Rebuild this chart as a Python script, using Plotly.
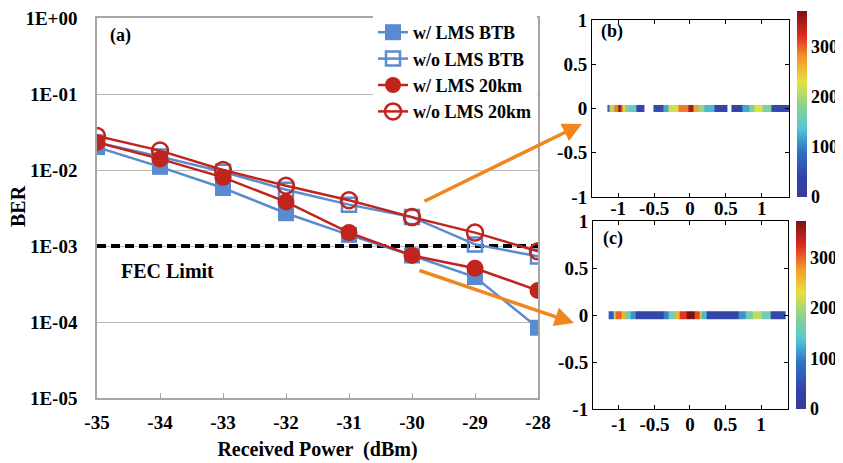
import plotly.graph_objects as go

# ---------------- data ----------------
power_dbm = [-35, -34, -33, -32, -31, -30, -29, -28]
power_ticktext = ["-35", "-34", "-33", "-32", "-31", "-30", "-29", "-28"]
ber_w_lms_btb = [2.0e-2, 1.1e-2, 5.8e-3, 2.7e-3, 1.4e-3, 7.5e-4, 3.9e-4, 8.4e-5]
ber_wo_lms_btb = [2.3e-2, 1.5e-2, 9.5e-3, 5.5e-3, 3.5e-3, 2.4e-3, 1.05e-3, 7.3e-4]
ber_w_lms_20km = [2.3e-2, 1.4e-2, 8.0e-3, 3.8e-3, 1.5e-3, 7.5e-4, 5.1e-4, 2.6e-4]
ber_wo_lms_20km = [2.8e-2, 1.8e-2, 1.0e-2, 6.2e-3, 4.0e-3, 2.4e-3, 1.5e-3, 8.5e-4]
series_names = ["w/ LMS BTB", "w/o LMS BTB", "w/ LMS 20km", "w/o LMS 20km"]
fec_x = [-35, -28]
fec_y = [1e-3, 1e-3]

ber_tickvals = [1e0, 1e-1, 1e-2, 1e-3, 1e-4, 1e-5]
ber_ticktext = ["1E+00", "1E-01", "1E-02", "1E-03", "1E-04", "1E-05"]

# heat-map stripes (bin edges along x, intensity per bin; None = empty)
b_edges = [-1.15, -1.12, -1.09, -1.055, -1.0, -0.97, -0.935, -0.90, -0.84, -0.75, -0.64,
           -0.515, -0.375, -0.30, -0.16, -0.02, 0.05, 0.12, 0.2, 0.34, 0.52,
           0.575, 0.735, 0.83, 0.9, 1.01, 1.14, 1.38]
b_values = [70, 250, 200, 290, 370, 310, 240, 170, 150, 40, None,
            50, 120, 220, 290, 350, 270, 190, 130, 40, None,
            40, 120, 170, 230, 170, 45]
c_edges = [-1.145, -1.075, -1.04, -0.96, -0.91, -0.84, -0.76, -0.375, -0.30, -0.21, -0.14,
           -0.05, 0.07, 0.14, 0.17, 0.24, 0.69, 0.78, 0.88, 1.01, 1.135, 1.35]
c_values = [70, 200, 300, 260, 160, 110, 40, 100, 160, 260, 320,
            370, 310, 250, 130, 40, 110, 160, 210, 160, 45]
stripe_y = [-0.04, 0.04]
z_max = 372
cbar_ticks = [0, 100, 200, 300]
cbar_ticktext = ["0", "100", "200", "300"]
sub_ticks = [-1, -0.5, 0, 0.5, 1]
sub_ticktext = ["-1", "-0.5", "0", "0.5", "1"]

# ---------------- styling ----------------
W, H = 843, 463
OFF = 8  # page body margin offset of the plot div
BLUE = "#5A8ACF"
RED = "#C0241C"
ORANGE = "#F0861E"
FONT = "Liberation Serif"
TICK = 19

jet = [
    [0.0, "#3a3a98"], [0.1, "#3341a8"], [0.25, "#2f74c6"], [0.37, "#55c6d6"],
    [0.5, "#90d48a"], [0.62, "#e6e03c"], [0.75, "#f4962a"], [0.87, "#de2a20"],
    [1.0, "#781212"],
]

def px_x(p):
    return (p - OFF) / W

def px_y(p):
    return 1 - (p - OFF) / H

def bfont(size):
    return dict(size=size, family=FONT, weight="bold", color="black")

def bold(lst):
    return ["<b>%s</b>" % t for t in lst]

fig = go.Figure()

fig.add_trace(go.Scatter(x=fec_x, y=fec_y, mode="lines", showlegend=False,
                         line=dict(color="black", width=4, dash="9px,5px"),
                         hoverinfo="skip", xaxis="x", yaxis="y"))

fig.add_trace(go.Scatter(x=power_dbm, y=ber_w_lms_btb, name="<b>%s</b>" % series_names[0],
                         mode="lines+markers",
                         line=dict(color=BLUE, width=2.5),
                         marker=dict(symbol="square", size=16, color=BLUE)))
fig.add_trace(go.Scatter(x=power_dbm, y=ber_wo_lms_btb, name="<b>%s</b>" % series_names[1],
                         mode="lines+markers",
                         line=dict(color=BLUE, width=2.5),
                         marker=dict(symbol="square-open", size=14, color=BLUE,
                                     line=dict(width=2.5, color=BLUE))))
fig.add_trace(go.Scatter(x=power_dbm, y=ber_w_lms_20km, name="<b>%s</b>" % series_names[2],
                         mode="lines+markers",
                         line=dict(color=RED, width=2.5),
                         marker=dict(symbol="circle", size=17, color=RED)))
fig.add_trace(go.Scatter(x=power_dbm, y=ber_wo_lms_20km, name="<b>%s</b>" % series_names[3],
                         mode="lines+markers",
                         line=dict(color=RED, width=2.5),
                         marker=dict(symbol="circle-open", size=16, color=RED,
                                     line=dict(width=2.5, color=RED))))

cb_common = dict(thickness=10, thicknessmode="pixels", lenmode="fraction",
                 tickvals=cbar_ticks, ticktext=bold(cbar_ticktext), ticks="",
                 outlinewidth=0, xanchor="left", yanchor="middle",
                 tickfont=bfont(18), ypad=0, xpad=0)

fig.add_trace(go.Heatmap(x=b_edges, y=stripe_y, z=[b_values], colorscale=jet,
                         zmin=0, zmax=z_max, xaxis="x2", yaxis="y2", hoverinfo="skip",
                         colorbar=dict(x=px_x(797), y=px_y(104), len=186 / H, **cb_common)))
fig.add_trace(go.Heatmap(x=c_edges, y=stripe_y, z=[c_values], colorscale=jet,
                         zmin=0, zmax=z_max, xaxis="x3", yaxis="y3", hoverinfo="skip",
                         colorbar=dict(x=px_x(796), y=px_y(315), len=188 / H, **cb_common)))

sub_axis = dict(showgrid=False, zeroline=False, showline=True, linecolor="black",
                linewidth=1, mirror="ticks", ticks="inside", ticklen=4, tickcolor="black",
                tickfont=bfont(TICK), automargin=False, ticklabeloverflow="allow")

fig.update_layout(
    width=W, height=H,
    margin=dict(l=0, r=0, t=0, b=0, autoexpand=False),
    paper_bgcolor="white", plot_bgcolor="white",
    font=bfont(16),
    xaxis=dict(domain=[px_x(97), px_x(538)], range=[-35, -28], tickvals=power_dbm,
               ticktext=bold(power_ticktext), automargin=False,
               showgrid=False, zeroline=False, showline=True, linecolor="#a6a6a6",
               linewidth=1.5, mirror=True, ticks="inside", ticklen=5, tickcolor="#a6a6a6",
               ticklabelstandoff=6, tickfont=bfont(TICK), ticklabeloverflow="allow",
               title=dict(text="<b>Received Power  (dBm)</b>", standoff=10, font=bfont(20)),
               anchor="y"),
    yaxis=dict(domain=[px_y(398), px_y(18)], type="log", range=[-5, 0],
               tickvals=ber_tickvals, ticktext=bold(ber_ticktext), showgrid=True,
               gridcolor="#b8b8b8", gridwidth=1, zeroline=False, showline=True,
               linecolor="#a6a6a6", linewidth=1.5, mirror=True, ticks="outside",
               ticklen=14, tickcolor="rgba(0,0,0,0)", automargin=False,
               tickfont=bfont(TICK), ticklabeloverflow="allow",
               anchor="x"),
    xaxis2=dict(domain=[px_x(592), px_x(789)], range=[-1.365, 1.38], tickvals=sub_ticks,
                ticktext=bold(sub_ticktext), anchor="y2", ticklabelstandoff=-6, **sub_axis),
    yaxis2=dict(domain=[px_y(197), px_y(20)], range=[-1, 1], tickvals=sub_ticks,
                ticktext=bold(sub_ticktext), anchor="x2", **sub_axis),
    xaxis3=dict(domain=[px_x(593), px_x(788)], range=[-1.365, 1.38], tickvals=sub_ticks,
                ticktext=bold(sub_ticktext), anchor="y3", ticklabelstandoff=-2, **sub_axis),
    yaxis3=dict(domain=[px_y(409), px_y(221)], range=[-1, 1], tickvals=sub_ticks,
                ticktext=bold(sub_ticktext), anchor="x3", **sub_axis),
    legend=dict(x=px_x(373), y=px_y(14), xanchor="left", yanchor="top",
                bgcolor="white", borderwidth=0, itemwidth=30, tracegroupgap=0,
                font=bfont(18)),
    showlegend=True,
)

annos = [
    dict(text="(a)", x=px_x(108), y=px_y(35), size=18),
    dict(text="(b)", x=px_x(599), y=px_y(32), size=18),
    dict(text="(c)", x=px_x(601), y=px_y(238), size=18),
    dict(text="FEC Limit", x=px_x(119), y=px_y(271), size=20),
]
for a in annos:
    fig.add_annotation(text="<b>%s</b>" % a["text"], x=a["x"], y=a["y"],
                       xref="paper", yref="paper",
                       xanchor="left", yanchor="middle", showarrow=False,
                       font=bfont(a["size"]))

# y-axis title
fig.add_annotation(text="<b>BER</b>", x=px_x(18), y=px_y(206), xref="paper", yref="paper",
                   xanchor="center", yanchor="middle", showarrow=False, textangle=-90,
                   font=bfont(20))

arrows = [((423, 202), (582, 124)), ((418, 270), (574, 323))]
for (sx, sy), (ex, ey) in arrows:
    fig.add_annotation(x=px_x(ex), y=px_y(ey), xref="paper", yref="paper",
                       ax=sx - ex, ay=sy - ey, text="", showarrow=True,
                       arrowhead=2, arrowsize=1.1, arrowwidth=3.5, arrowcolor=ORANGE)

fig.write_html("out.html")
